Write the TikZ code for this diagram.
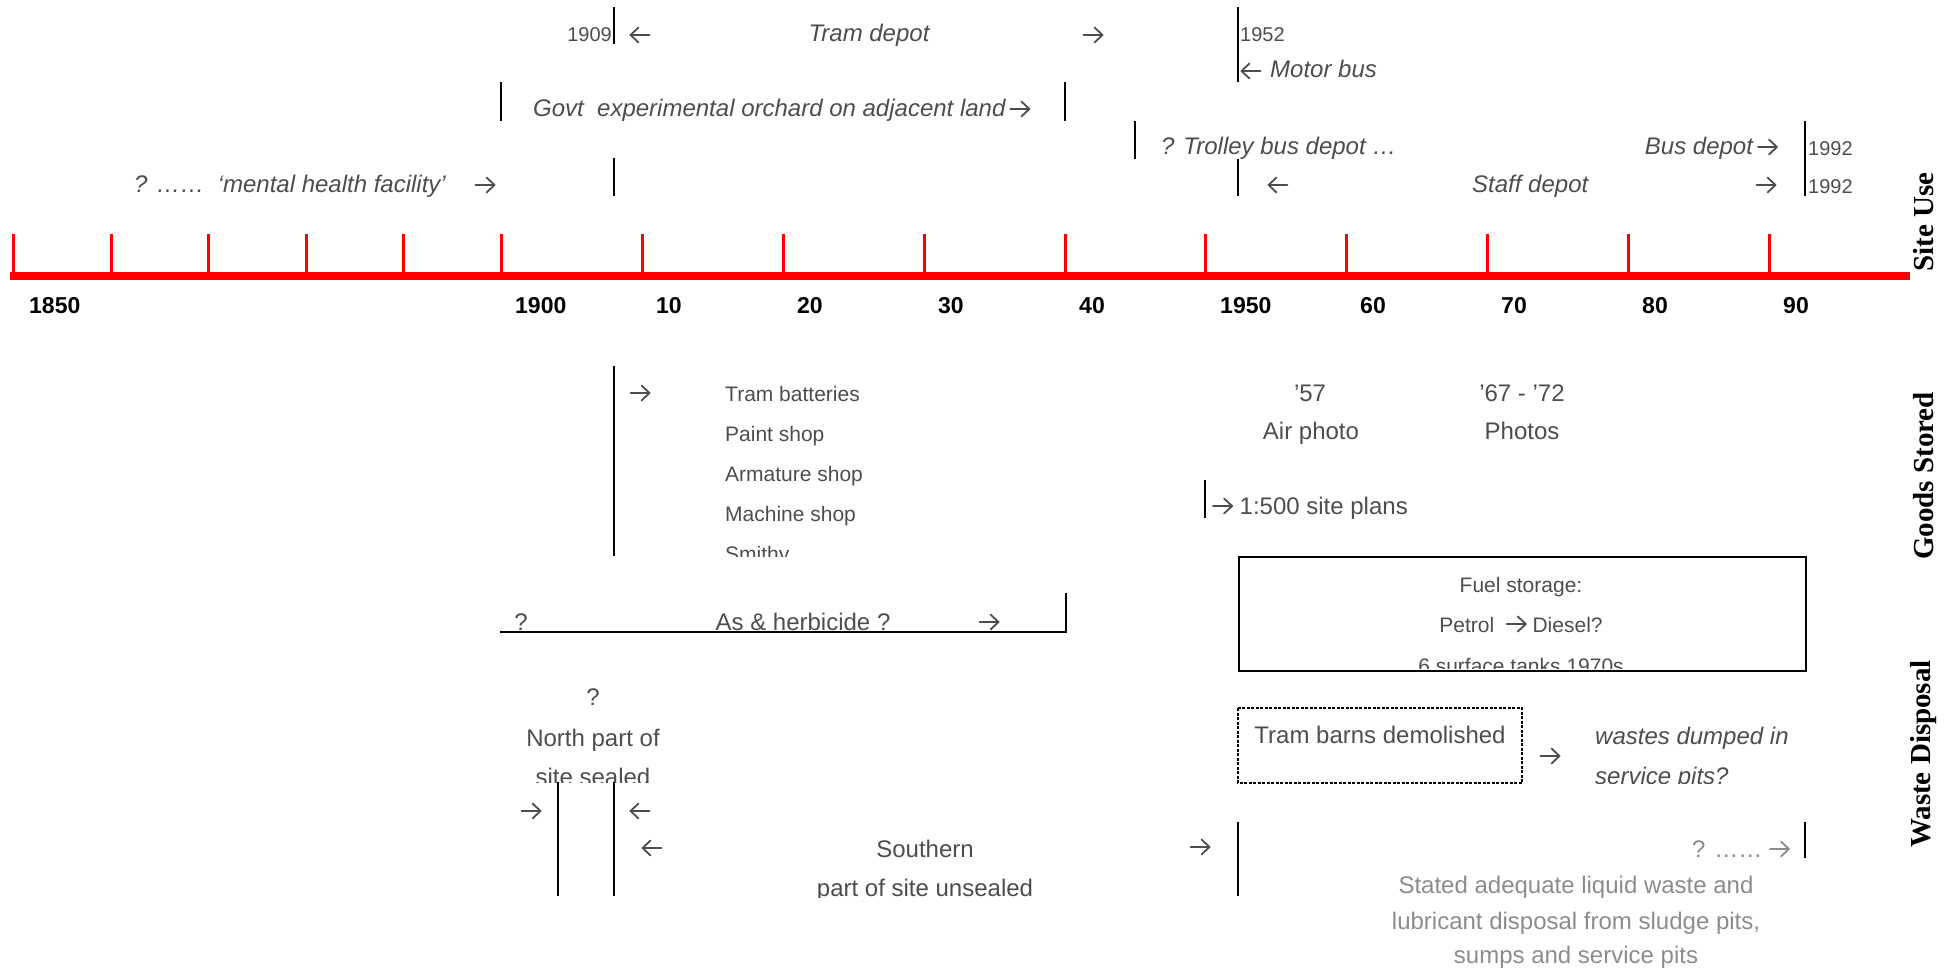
\documentclass[tikz,border=0pt]{standalone}
\usepackage{fontspec}
\setmainfont{Liberation Sans}
\newfontfamily\sideserif{Liberation Serif}
\definecolor{txtgray}{RGB}{77,77,77}
\definecolor{myLight}{RGB}{140,140,140}
\newcommand{\myra}{\tikz[x=1pt,y=1pt,baseline=-8pt]{\draw[line width=1.8pt, line cap=round, line join=round] (0pt,0pt) -- (19pt,0pt) (11pt,7.5pt) -- (19pt,0pt) -- (11pt,-7.5pt);}}
\newcommand{\myla}{\tikz[x=1pt,y=1pt,baseline=-8pt]{\draw[line width=1.8pt, line cap=round, line join=round] (19pt,0pt) -- (0pt,0pt) (8pt,7.5pt) -- (0pt,0pt) -- (8pt,-7.5pt);}}
\tikzset{
  lbl/.style={inner sep=0pt, text=txtgray, font=\fontsize{24}{28}\selectfont},
  lbli/.style={inner sep=0pt, text=txtgray, font=\fontsize{24}{28}\selectfont\itshape},
  lbls/.style={inner sep=0pt, text=txtgray, font=\fontsize{21}{25}\selectfont},
  yr/.style={inner sep=0pt, text=txtgray, font=\fontsize{20}{24}\selectfont},
  axlab/.style={inner sep=0pt, text=black, font=\fontsize{23}{28}\selectfont\bfseries, anchor=base west},
  bar/.style={line width=2pt, black},
  side/.style={inner sep=0pt, rotate=90, font=\fontsize{29}{34}\selectfont\sideserif\bfseries},
}
\begin{document}
\begin{tikzpicture}[x=1pt, y=-1pt]
\useasboundingbox (0,0) rectangle (1957,968);

% ---- time axis ----
\draw[red, line width=8pt] (10,276) -- (1910,276);
\foreach \x in {13,111,208,306,403,501,642,783,924,1065,1205,1346,1487,1628,1769}
  \draw[red, line width=3pt] (\x,234) -- (\x,278);
\node[axlab] (y1850) at (29,313) {1850};
\node[axlab] (y1900) at (515,313) {1900};
\node[axlab] (y10) at (656,313) {10};
\node[axlab] (y20) at (797,313) {20};
\node[axlab] (y30) at (938,313) {30};
\node[axlab] (y40) at (1079,313) {40};
\node[axlab] (y1950) at (1220,313) {1950};
\node[axlab] (y60) at (1360,313) {60};
\node[axlab] (y70) at (1501,313) {70};
\node[axlab] (y80) at (1642,313) {80};
\node[axlab] (y90) at (1783,313) {90};

% ---- site use ----
\node[yr, anchor=base east] (n1909) at (612,42) {1909};
\draw[bar] (614,7) -- (614,44);
\node[lbl] (la1) at (640,35) {\myla};
\node[lbli, anchor=base] (tram) at (869,42) {Tram depot};
\node[lbl] (ra1) at (1093,35) {\myra};
\draw[bar] (1238,7) -- (1238,82);
\node[yr, anchor=base west] (n1952) at (1240,42) {1952};
\node[lbl] (la2) at (1251,71) {\myla};
\node[lbli, anchor=base west] (motor) at (1270,78) {Motor bus};

\draw[bar] (501,82) -- (501,121);
\node[lbli, anchor=base west] (govt) at (533,117) {Govt\ \ experimental orchard on adjacent land\,\myra};
\draw[bar] (1065,82) -- (1065,121);

\draw[bar] (1135,121) -- (1135,159);
\node[lbli, anchor=base west] (trolley) at (1161,155) {? Trolley bus depot …};
\node[lbli, anchor=base east] (busdepot) at (1778,155) {Bus depot\,\myra};
\draw[bar] (1805,121) -- (1805,196);
\node[yr, anchor=base west] (n1992a) at (1808,156) {1992};

\node[lbli, anchor=base west] (mental) at (134,193) {? ……\ \ ‘mental health facility’};
\node[lbl] (ra2) at (485,185) {\myra};
\draw[bar] (614,158) -- (614,196);
\draw[bar] (1238,159) -- (1238,196);
\node[lbl] (la3) at (1278,185) {\myla};
\node[lbli, anchor=base west] (staff) at (1472,193) {Staff depot};
\node[lbl] (ra3) at (1766,185) {\myra};
\node[yr, anchor=base west] (n1992b) at (1808,194) {1992};

% ---- goods stored ----
\draw[bar] (614,366) -- (614,556);
\node[lbl] (ra4) at (640,393) {\myra};
\node[lbls, anchor=base west] (g1) at (725,401) {Tram batteries};
\node[lbls, anchor=base west] (g2) at (725,441) {Paint shop};
\node[lbls, anchor=base west] (g3) at (725,481) {Armature shop};
\node[lbls, anchor=base west] (g4) at (725,521) {Machine shop};
\begin{scope}
  \clip (700,530) rectangle (900,556);
  \node[lbls, anchor=base west] (g5) at (725,561) {Smithy};
\end{scope}

\node[lbl, anchor=base] (q1) at (521,630) {?};
\node[lbl, anchor=base] (asherb) at (803,630) {As \& herbicide ?};
\node[lbl] (ra5) at (989,622) {\myra};
\draw[bar] (500,632) -- (1066,632) -- (1066,593);

\node[lbl, anchor=base] (y57) at (1310,401) {’57};
\node[lbl, anchor=base] (air) at (1311,439) {Air photo};
\node[lbl, anchor=base] (y6772) at (1522,401) {’67 - ’72};
\node[lbl, anchor=base] (photos) at (1522,439) {Photos};
\draw[bar] (1205,480) -- (1205,518);
\node[lbl, anchor=base west] (plans) at (1212,514) {\myra\ 1:500 site plans};

\node[draw, line width=2pt, minimum width=567pt, minimum height=114pt, anchor=north west, inner sep=0pt] (fuel) at (1238,556) {};
\node[lbls, anchor=base] (fuel1) at (1521,592) {Fuel storage:};
\node[lbls, anchor=base] (fuel2) at (1521,632) {Petrol\ \ \myra\ Diesel?};
\begin{scope}
  \clip (1240,557) rectangle (1803,668);
  \node[lbls, anchor=base] (fuel3) at (1521,673) {6 surface tanks 1970s};
\end{scope}

% ---- waste disposal ----
\node[lbl, anchor=base] (q2) at (593,705) {?};
\node[lbl, anchor=base] (north) at (593,746) {North part of};
\begin{scope}
  \clip (500,750) rectangle (700,782);
  \node[lbl, anchor=base] (north2) at (593,785) {site sealed};
\end{scope}
\draw[bar] (558,782) -- (558,896);
\draw[bar] (614,782) -- (614,896);
\node[lbl] (ra6) at (531,811) {\myra};
\node[lbl] (la4) at (640,811) {\myla};
\node[lbl] (la5) at (652,848) {\myla};
\node[lbl, anchor=base] (south) at (925,857) {Southern};
\begin{scope}
  \clip (700,860) rectangle (1150,897);
  \node[lbl, anchor=base] (south2) at (925,896) {part of site unsealed};
\end{scope}
\node[lbl] (ra7) at (1200,847) {\myra};
\draw[bar] (1238,822) -- (1238,896);
\node[lbl, text=myLight, anchor=base east] (qdots) at (1790,857) {? ……\ \myra};
\draw[bar] (1805,822) -- (1805,858);
\node[lbl, text=myLight, anchor=base] (st1) at (1576,893) {Stated adequate liquid waste and};
\node[lbl, text=myLight, anchor=base] (st2) at (1576,929) {lubricant disposal from sludge pits,};
\node[lbl, text=myLight, anchor=base] (st3) at (1576,963) {sumps and service pits};

\draw[line width=1.5pt, dash pattern=on 3pt off 1.5pt] (1238,708) rectangle (1522,783);
\node[lbl, anchor=base] (barns) at (1380,743) {Tram barns demolished};
\node[lbl] (ra8) at (1550,756) {\myra};
\node[lbli, anchor=base west] (wastes) at (1595,744) {wastes dumped in};
\begin{scope}
  \clip (1590,750) rectangle (1900,783);
  \node[lbli, anchor=base west] (wastes2) at (1595,784) {service pits?};
\end{scope}

% ---- side labels ----
\node[side] (su) at (1924,222) {Site Use};
\node[side] (gs) at (1924,476) {Goods Stored};
\node[side] (wd) at (1924,754) {Waste Disposal};
\end{tikzpicture}
\end{document}
